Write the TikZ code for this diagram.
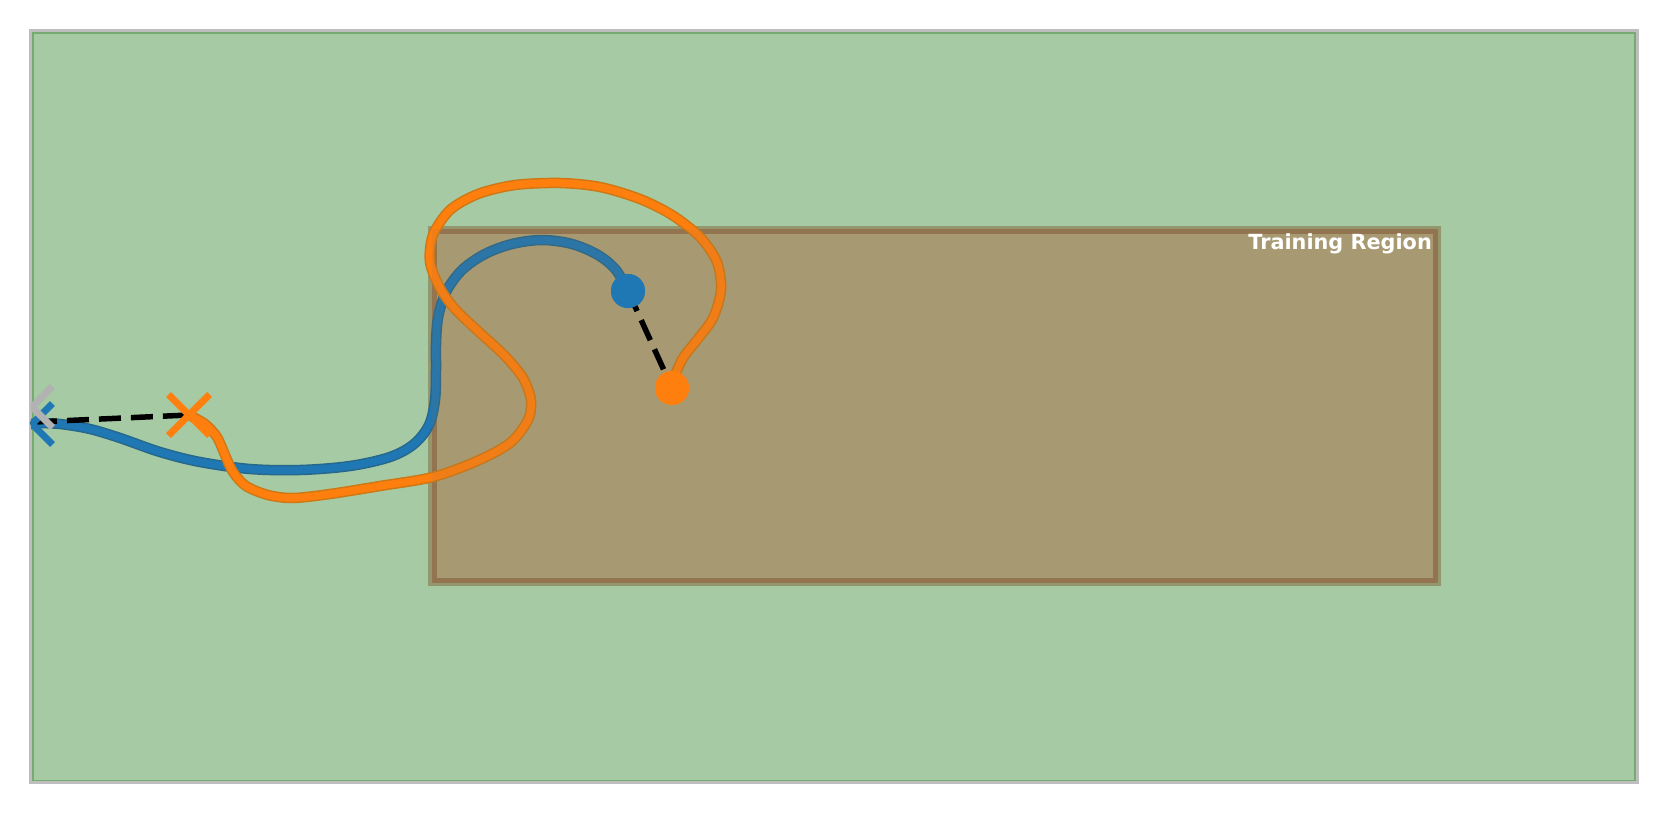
\documentclass[tikz,border=0pt]{standalone}
\usepackage{fontspec}
\newfontfamily\dejavu{DejaVu Sans}
\usetikzlibrary{shapes.misc}
\definecolor{gfill}{RGB}{166,203,164}
\definecolor{gedge}{RGB}{118,170,112}
\definecolor{gborder}{RGB}{190,190,190}
\definecolor{bfill}{RGB}{171,159,119}
\definecolor{bedge}{RGB}{146,117,80}
\definecolor{bhalo}{RGB}{148,150,110}
\definecolor{tblue}{RGB}{31,119,180}
\definecolor{tbluedark}{RGB}{38,104,140}
\definecolor{torange}{RGB}{255,127,14}
\definecolor{torangedark}{RGB}{205,120,20}
\definecolor{xgray}{RGB}{178,178,178}
\tikzset{
  dotmark/.style={circle, fill=#1, inner sep=0pt, minimum size=34pt},
  xmark/.style={cross out, draw=#1, line width=7pt, inner sep=0pt, minimum size=34pt},
  conn/.style={black, line width=5.5pt, dash pattern=on 22pt off 10pt},
  trajout/.style={line width=10.5pt, line cap=round, line join=round, draw=#1},
  trajin/.style={line width=7.5pt, line cap=round, line join=round, draw=#1},
}
\begin{document}
\begin{tikzpicture}[x=1pt,y=-1pt]
\useasboundingbox (0,0) rectangle (1667,813);
\fill[white] (0,0) rectangle (1667,813);
% axes / field
\fill[gfill] (31,31) rectangle (1637,783);
\draw[gedge, line width=2.5pt] (33,33) rectangle (1635,781);
\draw[gborder, line width=3pt] (30.5,30.5) rectangle (1637.5,782.5);
% training region
\fill[bhalo] (428,226) rectangle (1441,586);
\draw[bedge, fill=bfill, line width=5pt] (434.5,231.5) rectangle (1435.5,580);
% markers positions
\coordinate (blueXc) at (32,424);
\coordinate (grayXc) at (32,407);
\node[dotmark=tblue] (bluedot) at (628,291) {};
\node[dotmark=torange] (orangedot) at (672,388) {};
% blue trajectory
\foreach \st/\col in {trajout/tbluedark, trajin/tblue}{
\draw[\st=\col] plot[smooth, tension=0.55] coordinates {(35,423) (60,424) (90,429) (120,438) (160,452) (200,462) (250,469) (300,470) (350,466) (390,457) (414,444) (429,425) (435,400) (436,370) (436,345) (438,318) (446,292) (462,270) (485,254) (512,244) (542,240) (572,244) (598,255) (616,270) (628,291)};
}
% orange trajectory
\foreach \st/\col in {trajout/torangedark, trajin/torange}{
\draw[\st=\col] plot[smooth, tension=0.5] coordinates {(189,415) (205,424) (217,437) (225,455) (233,472) (246,486) (268,495) (293,498) (330,494) (380,486) (433,477) (477,461) (510,443) (528,420) (531,400) (523,378) (505,356) (478,331) (455,309) (440,288) (430,262) (433,235) (450,210) (478,194) (515,185) (560,183) (600,187) (640,199) (672,215) (700,237) (717,262) (721,290) (713,318) (697,340) (683,358) (674,378) (672,388)};
}
% light overlay of the region over the trajectories
\fill[bedge, opacity=0.12] (432,229) rectangle (1438,583);
\node[anchor=base east, text=white, inner sep=0pt, font=\dejavu\bfseries\fontsize{20.8}{24}\selectfont] (label) at (1432,249) {Training Region};
% dashed connectors
\draw[conn] (35,422) -- (189,415);
\draw[conn] (bluedot.center) -- (orangedot.center);
% dots on top
\node[dotmark=tblue] at (bluedot) {};
\node[dotmark=torange] at (orangedot) {};
% X markers
\begin{scope}
\clip (31,31) rectangle (1637,783);
\node[xmark=tblue] (blueX) at (blueXc) {};
\node[xmark=xgray] (grayX) at (grayXc) {};
\end{scope}
\node[xmark=torange] (orangeX) at (189,415) {};
\end{tikzpicture}
\end{document}
